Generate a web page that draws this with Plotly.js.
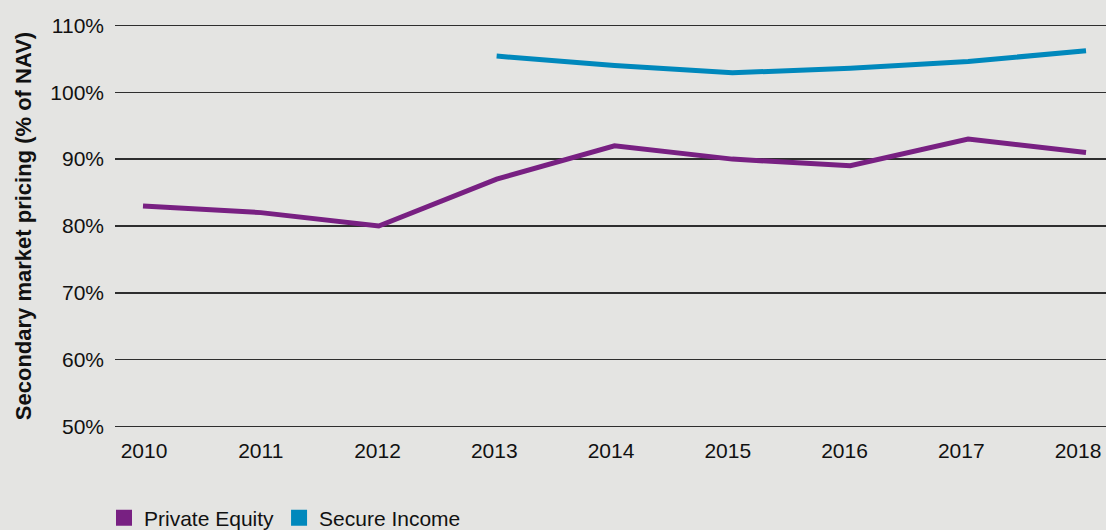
<!DOCTYPE html>
<html>
<head>
<meta charset="utf-8">
<script src="https://cdn.plot.ly/plotly-3.0.1.min.js"></script>
<style>html,body{margin:0;padding:0;background:#e4e4e2;}#chart{width:1106px;height:530px;}</style>
</head>
<body>
<div id="chart"></div>
<script>
const years = [2010, 2011, 2012, 2013, 2014, 2015, 2016, 2017, 2018];
const privateEquity = [83, 82, 80, 87, 92, 90, 89, 93, 91];
const secureIncome = [null, null, null, 105.4, 104.0, 102.9, 103.6, 104.6, 106.2];
const yTickVals = [50, 60, 70, 80, 90, 100, 110];
const yTickText = ['50%', '60%', '70%', '80%', '90%', '100%', '110%'];
const seriesNames = ['Private Equity', 'Secure Income'];
const colors = ['#782082', '#0088bc'];

const font = 'Liberation Sans, Arial, Helvetica, sans-serif';

const traces = [
  {x: years, y: privateEquity, mode: 'lines', line: {color: colors[0], width: 5}, showlegend: false, hoverinfo: 'x+y', name: seriesNames[0]},
  {x: years, y: secureIncome, mode: 'lines', line: {color: colors[1], width: 5}, showlegend: false, hoverinfo: 'x+y', name: seriesNames[1], connectgaps: false},
  {x: [null], y: [null], mode: 'markers', marker: {symbol: 'square', size: 18, color: colors[0]}, name: seriesNames[0], showlegend: true},
  {x: [null], y: [null], mode: 'markers', marker: {symbol: 'square', size: 18, color: colors[1]}, name: seriesNames[1], showlegend: true},
  // invisible trace on the label axis so the tick labels are drawn
  {x: years, y: years.map(() => null), xaxis: 'x2', mode: 'lines', showlegend: false, hoverinfo: 'skip'}
];

const layout = {
  width: 1106, height: 530,
  paper_bgcolor: '#e4e4e2', plot_bgcolor: '#e4e4e2',
  margin: {l: 115, r: 0, t: 22, b: 100, pad: 0, autoexpand: false},
  font: {family: font, size: 21, color: '#111'},
  xaxis: {
    range: [2009.7625, 2018.1696], tickvals: years,
    showgrid: false, zeroline: false, showline: false, ticks: '', showticklabels: false
  },
  xaxis2: {
    overlaying: 'x', side: 'bottom',
    range: [2009.7516, 2018.2398], tickvals: years, ticktext: years.map(String),
    showgrid: false, zeroline: false, showline: false, ticks: '',
    ticklabelstandoff: 6, ticklabeloverflow: 'allow', tickfont: {size: 21, color: '#111'}
  },
  yaxis: {
    range: [49.5, 110.5], tickvals: yTickVals, ticktext: yTickText,
    showgrid: true, gridcolor: '#2e2e2e', gridwidth: 1.4, zeroline: false, showline: false, ticks: '',
    ticklabelstandoff: 10, tickfont: {size: 21, color: '#111'},
    title: {text: '<b>Secondary market pricing (% of NAV)</b>', font: {size: 22, color: '#111'}, standoff: 12}
  },
  showlegend: true,
  legend: {
    orientation: 'h', x: -0.0111, xanchor: 'left', xref: 'paper',
    y: 0.0226, yanchor: 'middle', yref: 'container',
    font: {size: 21, color: '#111'}, bgcolor: 'rgba(0,0,0,0)', itemwidth: 30, tracegroupgap: 0
  }
};

Plotly.newPlot('chart', traces, layout, {displayModeBar: false, staticPlot: true});
</script>
</body>
</html>
